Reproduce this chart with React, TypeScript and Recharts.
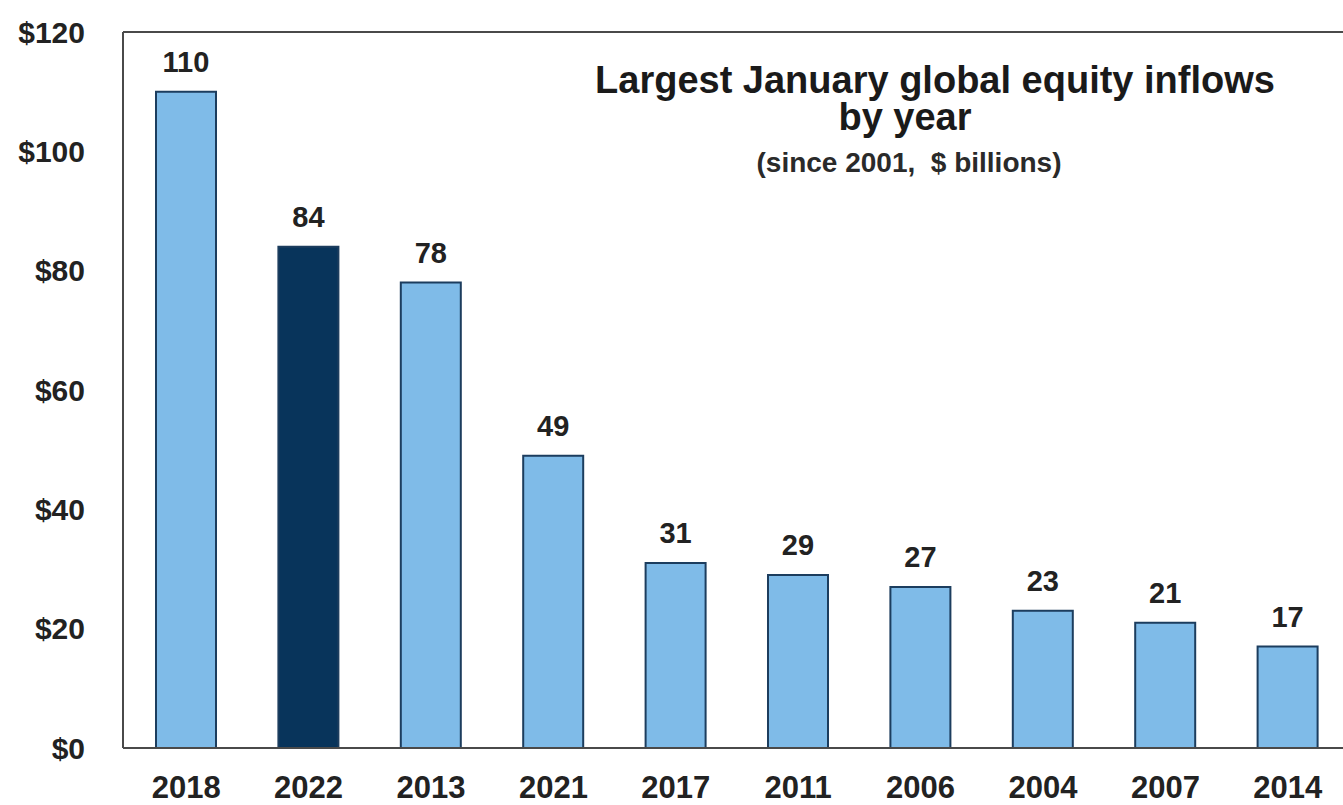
import { BarChart, Bar, XAxis, YAxis, Cell, LabelList, ReferenceLine } from 'recharts';

// January global equity inflows, $ billions (ranked)
const YEARS = ['2018', '2022', '2013', '2021', '2017', '2011', '2006', '2004', '2007', '2014'];
const INFLOWS = [110, 84, 78, 49, 31, 29, 27, 23, 21, 17];
const Y_TICKS = [0, 20, 40, 60, 80, 100, 120];
const HIGHLIGHT_YEAR = '2022';

const TITLE = 'Largest January global equity inflows';
const TITLE_2 = 'by year';
const SUBTITLE = '(since 2001,  $ billions)';

const FONT = '"Liberation Sans", Arial, Helvetica, sans-serif';
const LIGHT = '#7fbbe8';
const DARK = '#08345b';
const EDGE = '#1c3d5e';
const FRAME = '#4a4a4a';

const data = YEARS.map((year, i) => ({ year, value: INFLOWS[i] }));

// y tick labels sit well clear of the axis line, right-aligned
function YTick(props: any) {
  const { x, y, payload } = props;
  return (
    <text
      x={x - 38}
      y={y}
      textAnchor="end"
      dominantBaseline="central"
      fill="#222"
      fontSize={30}
      fontWeight="bold"
      fontFamily={FONT}
    >
      {`$${payload.value}`}
    </text>
  );
}

function App() {
  return (
    <div style={{ position: 'relative', width: 1343, height: 805, overflow: 'hidden', background: '#fff' }}>
      <style>{'body { margin: 0; }'}</style>
      <BarChart
        width={1362}
        height={805}
        data={data}
        margin={{ top: 32, right: 13, left: 0, bottom: 7 }}
        barCategoryGap={0}
      >
        <XAxis
          dataKey="year"
          height={50}
          padding={{ left: 2, right: 0 }}
          tickLine={false}
          tickSize={6}
          tickMargin={22}
          axisLine={{ stroke: FRAME, strokeWidth: 2 }}
          tick={{ fill: '#222', fontSize: 31, fontWeight: 'bold', fontFamily: FONT }}
        />
        <YAxis
          width={123}
          domain={[0, 120]}
          ticks={Y_TICKS}
          interval={0}
          tickLine={false}
          tickSize={0}
          tickMargin={0}
          axisLine={{ stroke: FRAME, strokeWidth: 2 }}
          tick={<YTick />}
        />
        <ReferenceLine y={120} stroke={FRAME} strokeWidth={2} />
        <Bar dataKey="value" barSize={60} stroke={EDGE} strokeWidth={2} isAnimationActive={false}>
          {data.map(d => (
            <Cell key={d.year} fill={d.year === HIGHLIGHT_YEAR ? DARK : LIGHT} />
          ))}
          <LabelList
            dataKey="value"
            position="top"
            offset={20}
            fill="#222"
            fontSize={29}
            fontWeight="bold"
            fontFamily={FONT}
          />
        </Bar>
      </BarChart>
      <svg
        width={1343}
        height={805}
        style={{ position: 'absolute', left: 0, top: 0, pointerEvents: 'none' }}
      >
        <g fontFamily={FONT} fontWeight="bold" fill="#1a1a1a" textAnchor="middle">
          <text fontSize={38}>
            <tspan x={935} y={93}>{TITLE}</tspan>
            <tspan x={905} y={130}>{TITLE_2}</tspan>
          </text>
          <text x={909} y={172} fontSize={28} fill="#2a2a2a" style={{ whiteSpace: 'pre' }}>{SUBTITLE}</text>
        </g>
      </svg>
    </div>
  );
}

export default App;
